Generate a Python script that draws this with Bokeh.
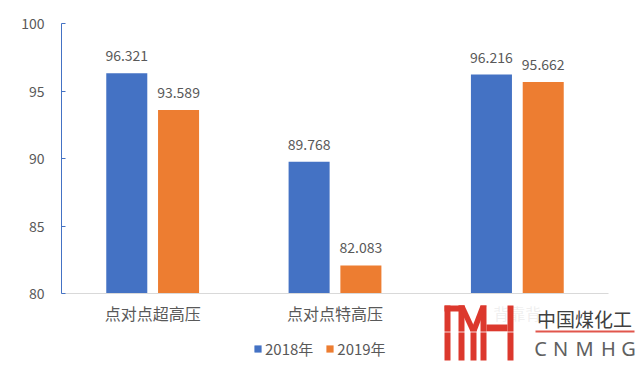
from bokeh.plotting import figure
from bokeh.models import (Range1d, FixedTicker, Legend, LegendItem, LabelSet,
                          ColumnDataSource, BoxAnnotation, PolyAnnotation, Label)
from bokeh.transform import dodge
from bokeh.core.properties import value
from bokeh.embed import file_html
from bokeh.resources import INLINE

categories = ["点对点超高压", "点对点特高压", "背靠背"]
series_names = ["2018年", "2019年"]
values_2018 = [96.321, 89.768, 96.216]
values_2019 = [93.589, 82.083, 95.662]
y_ticks = [80, 85, 90, 95, 100]

BLUE = "#4472C4"
ORANGE = "#ED7D31"
GRAY = "#595959"
CJK = "Noto Sans CJK SC"

W, H = 640, 365
# plotting area of the reference (pixels)
L, R, T, B = 61, 608, 23, 293
YMIN, YMAX = y_ticks[0], y_ticks[-1]
ncat = len(categories)
PXX = (R - L) / ncat
PXY = (B - T) / (YMAX - YMIN)

def dx(px):
    return (px - L) / PXX

def dy(py):
    return YMIN + (B - py) / PXY

p = figure(width=W, height=H,
           x_range=Range1d(dx(0), dx(W)), y_range=Range1d(dy(H), dy(0)),
           output_backend="svg", toolbar_location=None,
           min_border_left=0, min_border_right=0, min_border_top=0, min_border_bottom=0)
p.outline_line_color = None
p.xgrid.grid_line_color = None
p.ygrid.grid_line_color = None
p.background_fill_color = "white"
p.border_fill_color = "white"

cat_x = [i + 0.5 for i in range(ncat)]
src = ColumnDataSource(dict(x=cat_x, v18=values_2018, v19=values_2019,
                            t18=[f"{v:.3f}" for v in values_2018],
                            t19=[f"{v:.3f}" for v in values_2019]))

OFF = 0.142
BW = 0.225
r18 = p.vbar(x=dodge("x", -OFF), top="v18", bottom=YMIN, width=BW,
             source=src, fill_color=BLUE, line_color=None)
r19 = p.vbar(x=dodge("x", OFF), top="v19", bottom=YMIN, width=BW,
             source=src, fill_color=ORANGE, line_color=None)

for col, off in (("18", -OFF), ("19", OFF)):
    p.add_layout(LabelSet(x=dodge("x", off), y="v" + col, text="t" + col,
                          source=src, text_align="center", text_baseline="alphabetic",
                          y_offset=12, text_font=value(CJK), text_font_size="14px",
                          text_color=GRAY))

# y axis
ya = p.yaxis[0]
ya.fixed_location = 0
ya.bounds = (YMIN, YMAX)
ya.ticker = FixedTicker(ticks=y_ticks)
ya.axis_line_color = BLUE
ya.major_tick_line_color = BLUE
ya.major_tick_in = 4
ya.major_tick_out = 0
ya.minor_tick_line_color = None
ya.major_label_text_font = CJK
ya.major_label_text_font_size = "14px"
ya.major_label_text_color = GRAY
ya.major_label_standoff = 17

# x axis (categories)
xa = p.xaxis[0]
xa.fixed_location = YMIN
xa.bounds = (0, ncat)
xa.ticker = FixedTicker(ticks=cat_x)
xa.major_label_overrides = {x: c for x, c in zip(cat_x, categories)}
xa.axis_line_color = "#D9D9D9"
xa.major_tick_line_color = None
xa.major_tick_in = 0
xa.major_tick_out = 0
xa.minor_tick_line_color = None
xa.major_label_text_font = CJK
xa.major_label_text_font_size = "16px"
xa.major_label_text_color = GRAY
xa.major_label_standoff = 7

legend = Legend(items=[LegendItem(label=series_names[0], renderers=[r18]),
                       LegendItem(label=series_names[1], renderers=[r19])],
                location=(253, 6), orientation="horizontal",
                label_text_font=CJK, label_text_font_size="15px", label_text_color=GRAY,
                glyph_width=9, glyph_height=9, label_standoff=3, spacing=12,
                padding=0, margin=0, border_line_color=None, background_fill_alpha=0)
p.add_layout(legend)

# watermark logo (decoration), positioned in pixels converted to data space
p.add_layout(BoxAnnotation(left=dx(440), right=dx(640), top=dy(300), bottom=dy(365),
                           fill_color="white", fill_alpha=0.9, line_color=None,
                           level="overlay"))
RED = "#DC382D"
rects = [(444, 305, 450, 360), (444, 305, 464, 311), (458, 305, 464, 360),
         (470, 326, 476, 360), (480, 305, 486, 360), (486, 324, 507, 331),
         (507, 305, 513, 360)]
for (x0, y0, x1, y1) in rects:
    p.add_layout(BoxAnnotation(left=dx(x0), right=dx(x1), top=dy(y0), bottom=dy(y1),
                               fill_color=RED, fill_alpha=1, line_color=None, level="overlay"))
polys = [[(458, 305), (464, 305), (476, 331), (470, 331)],
         [(480, 305), (486, 305), (476, 331), (470, 331)]]
for poly in polys:
    p.add_layout(PolyAnnotation(xs=[dx(a) for a, b in poly], ys=[dy(b) for a, b in poly],
                                fill_color=RED, fill_alpha=1, line_color=None, level="overlay"))
p.add_layout(BoxAnnotation(left=dx(443), right=dx(514), top=dy(331), bottom=dy(332),
                           fill_color="white", fill_alpha=0.8, line_color=None, level="overlay"))
p.add_layout(BoxAnnotation(left=dx(535), right=dx(634), top=dy(330), bottom=dy(332),
                           fill_color=RED, fill_alpha=0.85, line_color=None, level="overlay"))
p.add_layout(Label(x=dx(584), y=dy(318), text="中国煤化工", text_font=CJK,
                   text_font_size="19px", text_color="#404040", text_align="center",
                   text_baseline="middle", level="overlay"))
for ch, cx in zip("CNMHG", [540, 560, 584, 608, 628]):
    p.add_layout(Label(x=dx(cx), y=dy(348), text=ch, text_font="Noto Sans",
                       text_font_size="20px", text_color="#606060", text_align="center",
                       text_baseline="middle", level="overlay"))

open("out.html", "w").write(file_html(p, INLINE))
